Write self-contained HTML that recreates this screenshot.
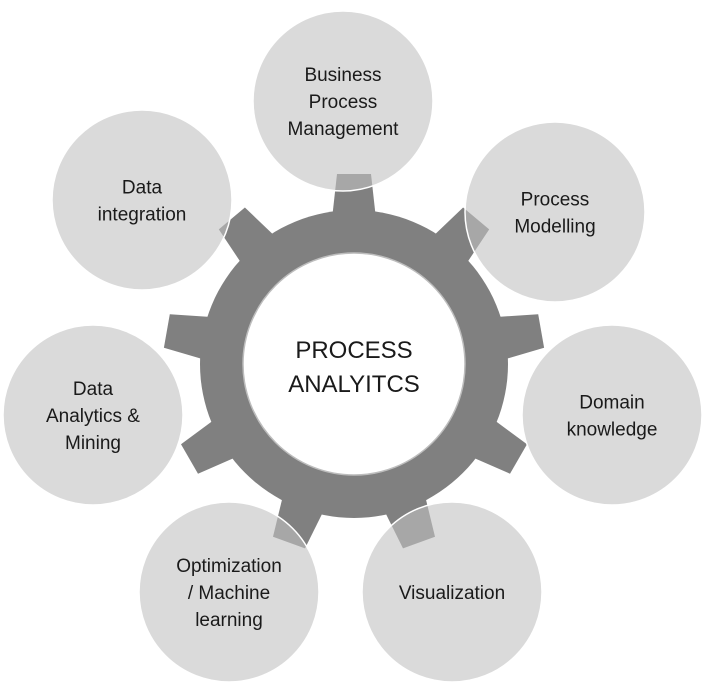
<!DOCTYPE html>
<html><head><meta charset="utf-8"><style>
html,body{margin:0;padding:0;background:#fff;}
svg{display:block;}
text{font-family:"Liberation Sans",sans-serif;fill:#1a1a1a;}
</style></head><body>
<svg width="706" height="693" viewBox="0 0 706 693">
<g id="gear"></g>
<circle cx="354" cy="364" r="111" fill="#fff" stroke="#bdbdbd" stroke-width="1.5"/>
<text x="354" y="358" text-anchor="middle" font-size="24">PROCESS</text>
<text x="354" y="392" text-anchor="middle" font-size="24">ANALYITCS</text>
<g id="nodes"></g>
</svg>
<script>
const labels = [["Business","Process","Management"],["Process","Modelling"],["Domain","knowledge"],["Visualization"],["Optimization","/ Machine","learning"],["Data","Analytics &","Mining"],["Data","integration"]];
const nodeX = [343,555,612,452,229,93,142];
const nodeY = [101,212,415,592,592,415,200];
const toothAngles = [-90,-50,-10,30,70,110,150,190,230];
const NS="http://www.w3.org/2000/svg";
const cx=354, cy=364;
const gear=document.getElementById('gear');
const ring=document.createElementNS(NS,'circle');
ring.setAttribute('cx',cx);ring.setAttribute('cy',cy);ring.setAttribute('r',154);ring.setAttribute('fill','#808080');


gear.appendChild(ring);
toothAngles.forEach((a,i)=>{
  const r=a*Math.PI/180, ux=Math.cos(r), uy=Math.sin(r), px=-uy, py=ux;
  const r0=145, r1=190, w0=22, w1=17;
  const pts=[[r0,-w0],[r1,-w1],[r1,w1],[r0,w0]].map(([d,w])=>(cx+ux*d+px*w).toFixed(1)+','+(cy+uy*d+py*w).toFixed(1)).join(' ');
  const p=document.createElementNS(NS,'polygon');
  p.setAttribute('points',pts);p.setAttribute('fill','#808080');
  
  
  gear.appendChild(p);
});
const nodes=document.getElementById('nodes');
labels.forEach((lines,i)=>{
  const g=document.createElementNS(NS,'g');
  
  
  const c=document.createElementNS(NS,'circle');
  c.setAttribute('cx',nodeX[i]);c.setAttribute('cy',nodeY[i]);c.setAttribute('r',90);
  c.setAttribute('fill','#c2c2c2');c.setAttribute('fill-opacity','0.6');c.setAttribute('stroke','#fff');c.setAttribute('stroke-width','1.5');
  
  
  g.appendChild(c);
  const lh=27, y0=nodeY[i]-(lines.length-1)*lh/2+7;
  lines.forEach((t,j)=>{
    const tx=document.createElementNS(NS,'text');
    tx.setAttribute('x',nodeX[i]);tx.setAttribute('y',y0+j*lh);tx.setAttribute('text-anchor','middle');tx.setAttribute('font-size','19');
    tx.textContent=t;
    
    
    g.appendChild(tx);
  });
  nodes.appendChild(g);
});
</script>
</body></html>
